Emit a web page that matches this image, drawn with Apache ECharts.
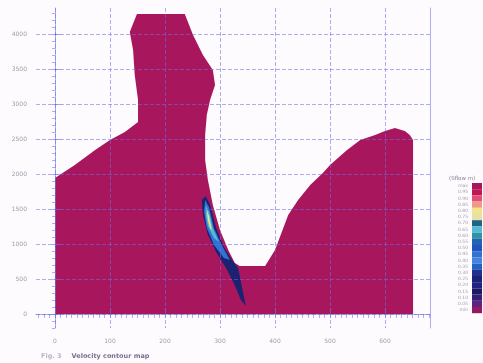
<!DOCTYPE html>
<html>
<head>
<meta charset="utf-8">
<script src="https://cdn.jsdelivr.net/npm/echarts@6/dist/echarts.min.js"></script>
<style>
  html, body { margin: 0; padding: 0; background: #fdfbfd; }
  #chart { width: 483px; height: 363px; }
</style>
</head>
<body>
<div id="chart"></div>
<script>
// axis tick labels
const xTicks = [0, 100, 200, 300, 400, 500, 600]
const yTicks = [0, 500, 1000, 1500, 2000, 2500, 3000, 3500, 4000]

// outlines, [distance m, elevation m]
const section = [
  [0, 0], [0, 1943], [36, 2129], [73, 2343], [100, 2486], [127, 2600], [151, 2743],
  [151, 3057], [145, 3414], [142, 3771], [136, 4029], [149, 4286], [236, 4286],
  [251, 3986], [269, 3700], [287, 3486], [291, 3271], [282, 3057], [276, 2843],
  [273, 2557], [273, 2200], [278, 1914], [287, 1557], [300, 1200], [315, 914],
  [327, 729], [336, 686], [382, 686], [400, 914], [424, 1414], [442, 1629],
  [464, 1843], [487, 2014], [500, 2129], [531, 2343], [555, 2486], [582, 2557],
  [600, 2614], [618, 2657], [636, 2614], [645, 2557], [651, 2486], [651, 0]
]
const bandNavy = [
  [274, 1686], [282, 1557], [293, 1229], [307, 957], [322, 771], [333, 657],
  [347, 114], [338, 200], [325, 443], [311, 657], [293, 886], [278, 1129],
  [269, 1414], [267, 1629]
]
const bandBlue = [
  [273, 1629], [280, 1529], [289, 1229], [304, 971], [318, 771], [307, 800],
  [289, 986], [276, 1229], [271, 1457]
]
const bandCyan = [
  [274, 1557], [280, 1457], [287, 1229], [298, 1029], [289, 1086], [278, 1257], [274, 1414]
]
const bandYellow = [
  [276, 1486], [280, 1400], [285, 1200], [282, 1229], [278, 1343]
]
const regions = [section, bandNavy, bandBlue, bandCyan, bandYellow]
const regionLevels = [20, 5, 9, 13, 16]

// legend classes, top to bottom
const levelValues = [20, 19, 18, 17, 16, 15, 14, 13, 12, 11, 10, 9, 8, 7, 6, 5, 4, 3, 2, 1, 0]
const levelLabels = ['max', '0.95', '0.90', '0.85', '0.80', '0.75', '0.70', '0.65', '0.60', '0.55',
  '0.50', '0.45', '0.40', '0.35', '0.30', '0.25', '0.20', '0.15', '0.10', '0.05', 'min']
const levelColors = ['#a8175d', '#c01a55', '#e0507a', '#ee9a86', '#f2e48a', '#e6e0a8', '#1f6482',
  '#52bcd6', '#2f92a6', '#2462b2', '#2152c2', '#3472d2', '#4284e0', '#2262c2', '#20328e',
  '#1b2272', '#222282', '#1a1a62', '#302272', '#602282', '#941a62']

const minorX = []
for (let v = -30; v <= 680; v += 10) minorX.push(v)
const minorY = []
for (let v = -200; v <= 4350; v += 100) minorY.push(v)

const gridColor = 'rgba(110, 110, 225, 0.55)'
const labelColor = '#a49aae'

const chart = echarts.init(document.getElementById('chart'))
const option = {
  backgroundColor: '#fdfbfd',
  animation: false,
  title: [{
    text: '{a|Fig. 3}  {b|Velocity contour map}',
    left: 36,
    top: 342,
    textStyle: {
      rich: {
        a: { fontSize: 6.5, color: '#bdb3c8', fontFamily: 'DejaVu Sans' },
        b: { fontSize: 6.5, color: '#7a7090', fontFamily: 'DejaVu Sans', fontWeight: 'bold' }
      }
    }
  }, {
    text: '(Sflow m)',
    left: 444,
    top: 171,
    textStyle: { fontSize: 5.5, color: '#8a8098', fontWeight: 'normal', fontFamily: 'DejaVu Sans' }
  }],
  grid: { left: 36, right: 53, top: 8, bottom: 35 },
  xAxis: [{
    type: 'value',
    min: -34.5,
    max: 681.8,
    axisLine: { show: true, lineStyle: { color: gridColor } },
    axisTick: { show: true, customValues: xTicks, length: 6, inside: true, lineStyle: { color: gridColor } },
    axisLabel: { customValues: xTicks, fontSize: 6, color: labelColor, margin: 10, fontFamily: 'DejaVu Sans' },
    splitLine: { show: true, lineStyle: { color: gridColor, type: [4, 2] } }
  }, {
    type: 'value',
    position: 'bottom',
    min: -34.5,
    max: 681.8,
    axisLine: { show: false },
    axisTick: { show: true, customValues: minorX, length: 4, lineStyle: { color: gridColor } },
    axisLabel: { show: false },
    splitLine: { show: false }
  }],
  yAxis: [{
    type: 'value',
    min: -200,
    max: 4371.4,
    axisLine: { show: true, lineStyle: { color: gridColor } },
    axisTick: { show: true, customValues: yTicks, length: 6, inside: true, lineStyle: { color: gridColor } },
    axisLabel: {
      customValues: yTicks, fontSize: 6, color: labelColor, margin: 9, fontFamily: 'DejaVu Sans',
      formatter: v => String(v)
    },
    splitLine: { show: true, lineStyle: { color: gridColor, type: [4, 2] } }
  }, {
    type: 'value',
    position: 'left',
    min: -200,
    max: 4371.4,
    axisLine: { show: false },
    axisTick: { show: true, customValues: minorY, length: 3, lineStyle: { color: gridColor } },
    axisLabel: { show: false },
    splitLine: { show: false }
  }, {
    type: 'value',
    position: 'right',
    min: -200,
    max: 4371.4,
    axisLine: { show: true, lineStyle: { color: gridColor } },
    axisTick: { show: false },
    axisLabel: { show: false },
    splitLine: { show: false }
  }],
  visualMap: {
    type: 'piecewise',
    seriesIndex: 0,
    dimension: 1,
    left: 443,
    top: 168,
    itemWidth: 10,
    itemHeight: 6.2,
    itemGap: 0,
    itemSymbol: 'rect',
    textGap: 4,
    selectedMode: false,
    hoverLink: false,
    textStyle: { fontSize: 4.5, color: labelColor, fontFamily: 'DejaVu Sans' },
    pieces: levelValues.map((v, i) => ({ value: v, color: levelColors[i], label: levelLabels[i] }))
  },
  series: [{
    type: 'custom',
    coordinateSystem: 'cartesian2d',
    silent: true,
    z: -1,
    data: regions.map((r, i) => [i, regionLevels[i]]),
    renderItem(params, api) {
      const pts = regions[api.value(0)].map(p => api.coord(p))
      return {
        type: 'polygon',
        shape: { points: pts },
        style: { fill: api.visual('color'), stroke: null }
      }
    }
  }]
}
chart.setOption(option)
</script>
</body>
</html>
